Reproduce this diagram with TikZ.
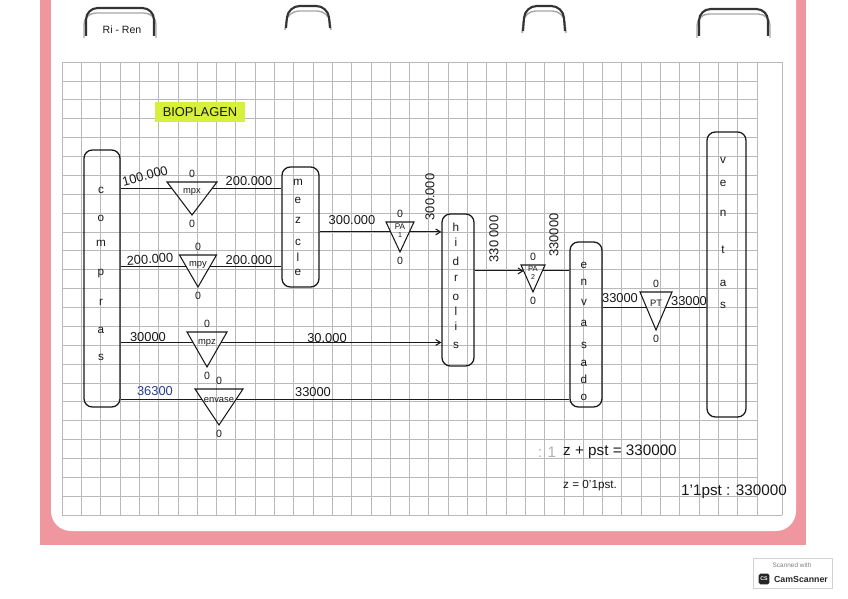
\documentclass[tikz,border=0pt]{standalone}
\usepackage{fontspec}
\setmainfont{Liberation Sans}
\usetikzlibrary{calc,arrows.meta}
\definecolor{pinkc}{RGB}{240,150,158}
\definecolor{hl}{RGB}{214,240,60}
\definecolor{inkblue}{RGB}{40,60,150}
\definecolor{ink}{RGB}{25,25,25}
\newcommand{\valve}[7]{%
  \coordinate (#1-tl) at ({#2-#4},{#3});
  \coordinate (#1-tr) at ({#2+#4},{#3});
  \coordinate (#1-ap) at ({#2},{#5});
  \draw[flow] (#1-tl) -- (#1-tr) -- (#1-ap) -- cycle;
  \coordinate (#1-l) at ($(#1-tl)!#7!(#1-ap)$);
  \coordinate (#1-r) at ($(#1-tr)!#7!(#1-ap)$);
  \node[vlab] (#1-lab) at ({#2},{#3+(#5-#3)*0.3}) {#6};
  \node[zero] (#1-z1) at ({#2},{#3-8}) {0};
  \node[zero] (#1-z2) at ({#2},{#5+9}) {0};
}
\begin{document}
\begin{tikzpicture}[x=0.3mm,y=-0.3mm,
  stagebox/.style={draw=ink, line width=1.1pt, rounded corners=2.5mm, inner sep=0pt},
  letter/.style={inner sep=0pt, text height=1ex, text depth=0pt, font=\fontsize{10}{10}\selectfont, text=ink},
  num/.style={inner sep=0pt, font=\fontsize{11}{11}\selectfont, text=ink},
  vlab/.style={inner sep=0pt, font=\fontsize{8}{8}\selectfont, align=center, text=ink},
  zero/.style={inner sep=0pt, font=\fontsize{9}{9}\selectfont, text=ink},
  flow/.style={draw=ink, line width=0.9pt},
  arr/.style={flow, -{Straight Barb[length=4pt,width=5pt]}},
  gridline/.style={draw=gray!55, line width=0.45pt},
  hole/.style={draw=gray!40!black, line width=1.8pt, rounded corners=3.5mm},
  holelight/.style={draw=gray!70, line width=1.2pt, rounded corners=3.5mm},
  formula/.style={inner sep=0pt, font=\fontsize{13}{13}\selectfont, text=ink},
]
\useasboundingbox (0,0) rectangle (848,599);
\fill[white] (0,0) rectangle (848,599);
% page
\fill[pinkc] (40,0) rectangle (806,545);
\fill[white, rounded corners=6mm] (51,-30) rectangle (796,531);
% grid
\foreach \i in {0,...,36} \draw[gridline] ({62+\i*19.3},62) -- ({62+\i*19.3},515);
\foreach \j in {0,...,24} \draw[gridline] (62,{62+\j*18.875}) -- (757,{62+\j*18.875});
\draw[gridline] (782,62) -- (782,515);
\draw[gridline] (757,62) -- (782,62);
\draw[gridline] (757,515) -- (782,515);
% holes
\draw[holelight] (84,38) -- (84,13) -- (156,13) -- (156,38);
\draw[hole] (86,36) -- (86,8) -- (154,8) -- (154,36);
\draw[holelight] (285,30) -- (287,11) -- (329,11) -- (331,30);
\draw[hole] (286,28) -- (288,6) -- (328,6) -- (330,28);
\draw[holelight] (522,33) -- (524,11) -- (564,11) -- (566,33);
\draw[hole] (523,31) -- (525,6) -- (563,6) -- (565,31);
\draw[holelight] (697,38) -- (697,14) -- (770,14) -- (770,38);
\draw[hole] (699,36) -- (699,9) -- (768,9) -- (768,36);
\node[inner sep=0pt, font=\fontsize{9}{9}\selectfont, text=ink] (rir) at (122,30) {Ri - Ren};
% title
\node[fill=hl, minimum width=27mm, minimum height=6mm, inner sep=0pt, font=\fontsize{11}{11}\selectfont, text=ink] (title) at (200,112) {BIOPLAGEN};
% stage boxes
\node[stagebox, minimum width=10.8mm, minimum height=77.1mm] (compras) at (102,278.5) {};
\node[stagebox, minimum width=11.1mm, minimum height=36mm] (mezcla) at (300.5,227) {};
\node[stagebox, minimum width=9.6mm, minimum height=45.6mm] (hidro) at (458,290) {};
\node[stagebox, minimum width=9.6mm, minimum height=49.5mm] (envasado) at (586,324.5) {};
\node[stagebox, minimum width=11.7mm, minimum height=85.5mm] (ventas) at (726.5,274.5) {};
\foreach \l/\yy [count=\i] in {c/190,o/218,m/243,p/272,r/302,a/330,s/357}
  \node[letter] (comp-\i) at (101,\yy) {\l};
\foreach \l/\yy [count=\i] in {m/182,e/200,z/220,c/242,l/258,e/272}
  \node[letter] (mez-\i) at (298,\yy) {\l};
\foreach \l/\yy [count=\i] in {h/228,i/243,d/262,r/278,o/297,l/312,i/327,s/345}
  \node[letter] (hid-\i) at (456,\yy) {\l};
\foreach \l/\yy [count=\i] in {e/265,n/282,v/302,a/323,s/345,a/363,d/380,o/397}
  \node[letter] (env-\i) at (584,\yy) {\l};
\foreach \l/\yy [count=\i] in {v/160,e/183,n/213,t/250,a/283,s/305}
  \node[letter] (ven-\i) at (723,\yy) {\l};
% valves
\valve{mpx}{192}{182}{25}{215}{mpx}{0.2}
\valve{mpy}{198}{255}{18.5}{287}{mpy}{0.37}
\valve{mpz}{207}{332}{20}{367}{mpz}{0.3}
\valve{envase}{219}{389}{24}{425}{envase}{0.28}
\valve{pa1}{400}{222}{14}{252}{\fontsize{7}{7}\selectfont PA\\[-1pt]\fontsize{6}{6}\selectfont 1}{0.33}
\valve{pa2}{533}{265}{12}{292}{\fontsize{6.5}{6.5}\selectfont PA\\[-1pt]\fontsize{6}{6}\selectfont 2}{0.22}
\valve{pt}{656}{292}{16}{330}{PT}{0.4}
% connectors
\draw[flow] (mpx-l -| compras.east) -- (mpx-l);
\draw[flow] (mpx-r) -- (mpx-r -| mezcla.west);
\draw[flow] (mpy-l -| compras.east) -- (mpy-l);
\draw[flow] (mpy-r) -- (mpy-r -| mezcla.west);
\draw[flow] (pa1-l -| mezcla.east) -- (pa1-l);
\draw[arr] (pa1-r) -- (pa1-r -| hidro.west);
\draw[arr] (pa2-l -| hidro.east) -- (pa2-l);
\draw[flow] (pa2-r) -- (pa2-r -| envasado.west);
\draw[flow] (pt-l -| envasado.east) -- (pt-l);
\draw[flow] (pt-r) -- (pt-r -| ventas.west);
\draw[flow] (mpz-l -| compras.east) -- (mpz-l);
\draw[arr] (mpz-r) -- (mpz-r -| hidro.west);
\draw[flow] (envase-l -| compras.east) -- (envase-l);
\draw[flow] (envase-r) -- (envase-r -| envasado.west);
% flow labels
\node[num, rotate=15] (n1) at (145,176) {100.000};
\node[num] (n2) at (249,181) {200.000};
\node[num, rotate=4] (n3) at (150,259) {200.000};
\node[num] (n4) at (249,260) {200.000};
\node[num] (n5) at (352,220) {300.000};
\node[num, rotate=90] (n6) at (430,197) {300.000};
\node[num, rotate=90] (n7) at (494,239) {330 000};
\node[num, rotate=90] (n8) at (554,235) {330000};
\node[num] (n9) at (620,298) {33000};
\node[num] (n10) at (689,301) {33000};
\node[num] (n11) at (148,337) {30000};
\node[num] (n12) at (327,338) {30.000};
\node[num, text=inkblue] (n13) at (155,391) {36300};
\node[num] (n14) at (313,392) {33000};
% formulas
\node[formula, text=gray!60] (f0) at (547,452) {: 1};
\node[formula, anchor=west] (f1) at (563,452) {z + pst = 330000};
\node[formula, anchor=west, font=\fontsize{10}{10}\selectfont] (f2) at (563,486) {z = 0'1pst.};
\node[formula, anchor=west] (f3) at (681,492) {1'1pst : 330000};
% scanner badge
\node[draw=gray!35, fill=white, line width=0.4pt, minimum width=23.7mm, minimum height=9mm, inner sep=0pt] (cs) at (792.5,573) {};
\node[inner sep=0pt, font=\fontsize{5.5}{6}\selectfont, text=gray] (cs1) at (792,565) {Scanned with};
\node[fill=black!85, rounded corners=0.5mm, text=white, font=\fontsize{4.5}{5}\selectfont\bfseries, minimum size=3.2mm, inner sep=0pt] (cs2) at (764,579) {CS};
\node[inner sep=0pt, font=\fontsize{7.5}{8}\selectfont\bfseries, text=black!85] (cs3) at (801,579) {CamScanner};
\end{tikzpicture}
\end{document}
